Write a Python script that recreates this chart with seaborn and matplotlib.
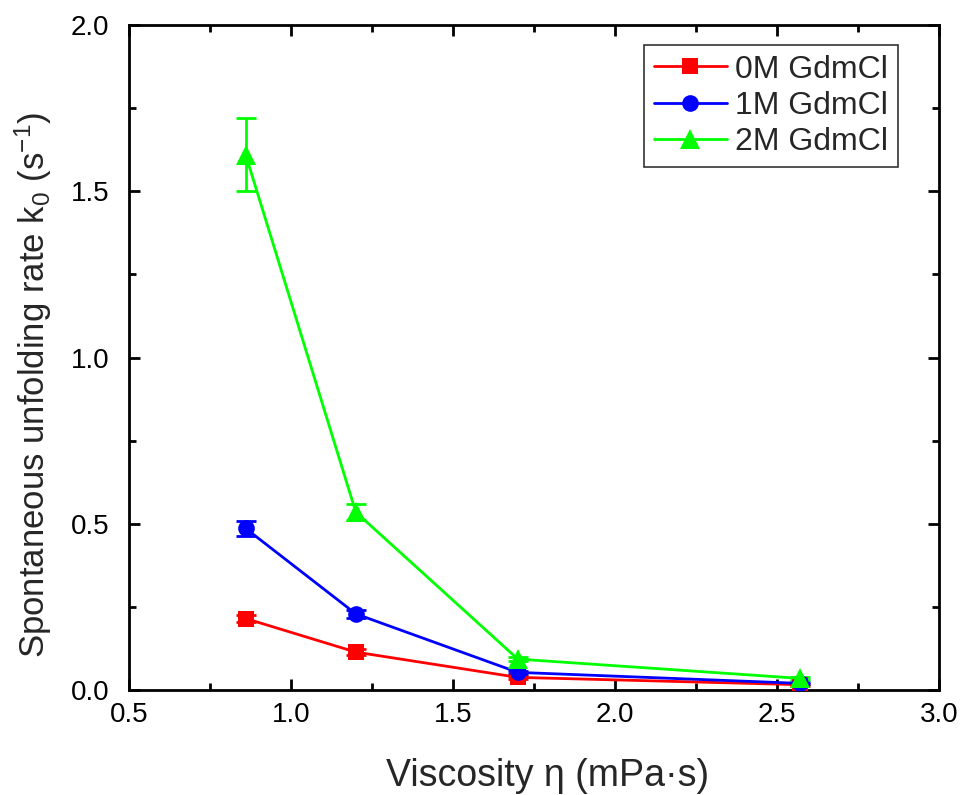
import matplotlib
matplotlib.use("Agg")
import matplotlib.pyplot as plt
import seaborn as sns
import pandas as pd
from matplotlib.ticker import MultipleLocator

viscosity = [0.86, 1.2, 1.7, 2.57]
k0_0M = [0.215, 0.114, 0.038, 0.016]
err_0M = [0.01, 0.008, 0.004, 0.003]
k0_1M = [0.486, 0.229, 0.053, 0.02]
err_1M = [0.022, 0.012, 0.005, 0.003]
k0_2M = [1.61, 0.535, 0.093, 0.035]
err_2M = [0.11, 0.025, 0.006, 0.004]
labels = ["0M GdmCl", "1M GdmCl", "2M GdmCl"]
colors = ["#ff0000", "#0000ff", "#00ff00"]
markers = ["s", "o", "^"]
msizes = [11, 12, 15]

sns.set_theme(style="ticks")
plt.rcParams['font.family'] = ['Liberation Sans', 'DejaVu Sans']
plt.rcParams['mathtext.default'] = 'regular'

rows = []
for lab, vals in zip(labels, [k0_0M, k0_1M, k0_2M]):
    for x, y in zip(viscosity, vals):
        rows.append({"eta": x, "k0": y, "series": lab})
df = pd.DataFrame(rows)

fig = plt.figure(figsize=(9.63, 7.95), dpi=100)
ax = fig.add_axes([129/963, 1-690/795, (939-129)/963, (690-25)/795])

for lab, vals, errs, c, m, ms in zip(labels, [k0_0M, k0_1M, k0_2M],
                                      [err_0M, err_1M, err_2M], colors, markers, msizes):
    ax.errorbar(viscosity, vals, yerr=errs, fmt='none', ecolor=c,
                elinewidth=2, capsize=7, capthick=2, zorder=2)
    sns.lineplot(data=df[df.series == lab], x="eta", y="k0", ax=ax,
                 color=c, marker=m, markersize=ms, markeredgewidth=0,
                 linewidth=2, label=lab, zorder=3)

ax.set_xlim(0.5, 3.0)
ax.set_ylim(0, 2.0)
ax.xaxis.set_major_locator(MultipleLocator(0.5))
ax.xaxis.set_minor_locator(MultipleLocator(0.25))
ax.yaxis.set_major_locator(MultipleLocator(0.5))
ax.yaxis.set_minor_locator(MultipleLocator(0.25))
ax.tick_params(which='both', direction='in', top=True, right=True,
               width=2, labelsize=20, colors='black')
ax.tick_params(which='major', length=8)
ax.tick_params(which='minor', length=5)
ax.tick_params(axis='x', which='major', pad=9)
ax.tick_params(axis='y', which='major', pad=14)
for s in ax.spines.values():
    s.set_linewidth(2)
    s.set_color('black')

ax.set_xlabel("Viscosity η (mPa·s)", fontsize=27)
ax.set_ylabel("Spontaneous unfolding rate k$_0$ (s$^{-1}$)", fontsize=25)
ax.xaxis.set_label_coords(0.517, -0.103)
ax.yaxis.set_label_coords(-0.093, 0.459)

leg = ax.legend(loc='upper right', bbox_to_anchor=(0.949, 0.970), fontsize=23,
                frameon=True, fancybox=False, edgecolor='black',
                handlelength=2.3, borderpad=0.3, labelspacing=0.2, handletextpad=0.25,
                borderaxespad=0)
leg.get_frame().set_linewidth(1.2)

fig.savefig("out.png", dpi=100)
